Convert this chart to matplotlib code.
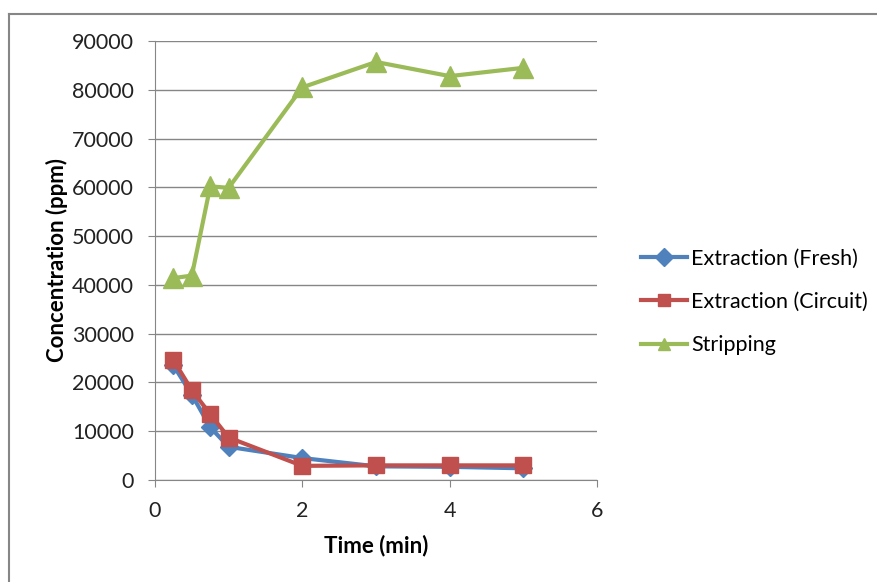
import numpy as np
import matplotlib
matplotlib.use("Agg")
import matplotlib.pyplot as plt
from matplotlib.lines import Line2D

time_min = [0.25, 0.5, 0.75, 1, 2, 3, 4, 5]
fresh = [23500, 17500, 10800, 6800, 4500, 2800, 2700, 2400]
circuit = [24600, 18400, 13500, 8700, 2900, 3000, 3000, 3000]
stripping = [41400, 41900, 60200, 59900, 80500, 85700, 82800, 84500]

plt.rcParams['font.family'] = ['Lato', 'DejaVu Sans']

fig = plt.figure(figsize=(8.78, 5.82), dpi=100)
ax = fig.add_axes([155 / 878, 1 - 480 / 582, (597 - 155) / 878, (480 - 41) / 582])

ax.plot(time_min, fresh, color='#4F81BD', lw=3, marker='D', ms=9,
        label='Extraction (Fresh)')
ax.plot(time_min, circuit, color='#C0504D', lw=3, marker='s', ms=12,
        label='Extraction (Circuit)')
ax.plot(time_min, stripping, color='#9BBB59', lw=3, marker='^', ms=14,
        label='Stripping')

ax.set_xlim(0, 6)
ax.set_ylim(0, 90000)
ax.set_xticks(range(0, 7, 2))
ax.set_yticks(range(0, 90001, 10000))
ax.yaxis.grid(True, color='#868686', lw=1)
ax.set_axisbelow(True)
for s in ['top', 'right']:
    ax.spines[s].set_visible(False)
for s in ['left', 'bottom']:
    ax.spines[s].set_color('#868686')
ax.tick_params(labelsize=15.5, colors='#868686', length=5, labelcolor='#222222')
ax.tick_params(axis='y', pad=10)
ax.tick_params(axis='x', pad=10)
ax.set_xlabel('Time (min)', fontsize=16, fontweight='bold', labelpad=10)
ax.set_ylabel('Concentration (ppm)', fontsize=16, fontweight='bold', labelpad=3)

leg = fig.legend(loc='center left', bbox_to_anchor=(622 / 878, 1 - 302 / 582),
                 frameon=False, fontsize=15.5, handlelength=2.1, handletextpad=0.2,
                 labelspacing=1.08)
for h in leg.legend_handles:
    h.set_markersize(9)

# chart outer border
fig.add_artist(Line2D([9 / 878, 9 / 878], [0, 1 - 14 / 582], transform=fig.transFigure,
                      color='#868686', lw=1.5))
fig.add_artist(Line2D([9 / 878, 1], [1 - 14 / 582, 1 - 14 / 582], transform=fig.transFigure,
                      color='#868686', lw=1.5))

fig.savefig('out.png', dpi=100)
